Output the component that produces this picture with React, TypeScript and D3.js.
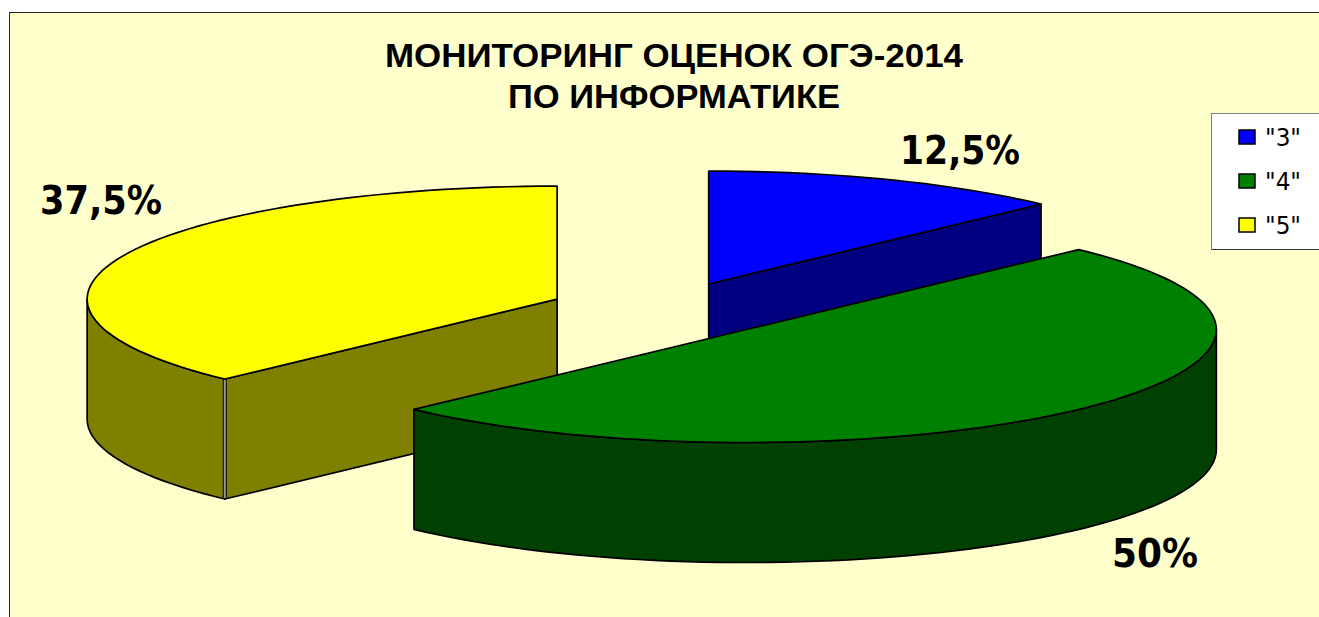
import React from "react";
import * as d3 from "d3";

const categories = ['"3"', '"4"', '"5"'];
const shares = [12.5, 50, 37.5];
const shareLabels = ["12,5%", "50%", "37,5%"];
const topColors = ["#0000FF", "#008000", "#FFFF00"];
const wallColors = ["#000080", "#004000", "#808000"];
const titleLines = ["МОНИТОРИНГ ОЦЕНОК ОГЭ-2014", "ПО ИНФОРМАТИКЕ"];

const W = 1319;
const H = 617;
const CX = 664.3;
const CY = 309.8;
const RX = 470;
const RY = 113;
const DEPTH = 120;
const EXPLODE = 116;
const labelBoxes = [
  { x: 900, y: 164, w: 120 },
  { x: 1112, y: 567, w: 86 },
  { x: 40, y: 214, w: 122 },
];

const proj = (a: number, r = 1) => [RX * r * Math.sin(a), -RY * r * Math.cos(a)];
const line = d3.line();

const arcs = d3
  .pie<number>()
  .sort(null)
  .startAngle(0)
  .endAngle(2 * Math.PI)(shares);

const slices = arcs
  .map((a) => {
    const mid = (a.startAngle + a.endAngle) / 2;
    const [ox] = proj(mid, EXPLODE / RX);
    const offY = -Math.cos(mid) * EXPLODE * (RY / RX);
    return { i: a.index, a0: a.startAngle, a1: a.endAngle, mid, x: CX + ox, y: CY + offY };
  })
  .sort((p, q) => p.y - q.y);

const sample = (a0: number, a1: number) => {
  const n = Math.max(2, Math.ceil(((a1 - a0) * 180) / Math.PI / 2));
  return d3.range(n + 1).map((k) => a0 + ((a1 - a0) * k) / n);
};

function Slice({ s }: { s: (typeof slices)[number] }) {
  const at = (a: number, dz = 0): [number, number] => {
    const [px, py] = proj(a);
    return [s.x + px, s.y + py + dz];
  };
  const c: [number, number] = [s.x, s.y];
  const cb: [number, number] = [s.x, s.y + DEPTH];

  const M = proj(s.mid);
  const edges = [s.a0, s.a1].filter((e) => {
    const P = proj(e);
    if (Math.abs(P[0]) < 1) return false;
    return M[1] < (P[1] / P[0]) * M[0];
  });

  const lo = Math.max(s.a0, Math.PI / 2);
  const hi = Math.min(s.a1, (3 * Math.PI) / 2);
  const outer =
    hi > lo
      ? [
          ...sample(lo, hi).map((a) => at(a)),
          ...sample(lo, hi)
            .reverse()
            .map((a) => at(a, DEPTH)),
        ]
      : null;

  const top: [number, number][] = [c, ...sample(s.a0, s.a1).map((a) => at(a))];
  return (
    <g stroke="#000" strokeWidth={1.7} strokeLinejoin="round">
      {outer && <path d={line(outer)! + "Z"} fill={wallColors[s.i]} />}
      {edges.map((e) => (
        <path key={e} d={line([c, at(e), at(e, DEPTH), cb])! + "Z"} fill={wallColors[s.i]} />
      ))}
      {outer &&
        edges.map((e) => (
          <g key={e}>
            <line x1={at(e)[0]} x2={at(e)[0]} y1={at(e)[1]} y2={at(e, DEPTH)[1]} strokeWidth={4} />
            <line
              x1={at(e)[0]}
              x2={at(e)[0]}
              y1={at(e)[1] + 1}
              y2={at(e, DEPTH)[1] - 1}
              stroke="#999"
              strokeWidth={2}
            />
          </g>
        ))}
      <path d={line(top)! + "Z"} fill={topColors[s.i]} />
    </g>
  );
}

export default function App() {
  return (
    <svg
      width={W}
      height={H}
      viewBox={`0 0 ${W} ${H}`}
      style={{ position: "absolute", left: 0, top: 0, display: "block" }}
    >
      <rect width={W} height={H} fill="#fff" />
      <rect x={9.5} y={12.5} width={W} height={H} fill="#FFFFCC" stroke="#222" strokeWidth={1} />
      {titleLines.map((t, i) => (
        <text
          key={t}
          x={674}
          y={67 + i * 41}
          textAnchor="middle"
          textLength={i === 0 ? 578 : 332}
          lengthAdjust="spacingAndGlyphs"
          fontFamily="Liberation Sans"
          fontWeight="bold"
          fontSize={34}
          fill="#000"
        >
          {t}
        </text>
      ))}
      {slices.map((s) => (
        <Slice key={s.i} s={s} />
      ))}
      {shareLabels.map((t, i) => (
        <text
          key={t}
          x={labelBoxes[i].x}
          y={labelBoxes[i].y}
          textLength={labelBoxes[i].w}
          lengthAdjust="spacingAndGlyphs"
          fontFamily="DejaVu Sans"
          fontWeight="bold"
          fontSize={39}
          fill="#000"
        >
          {t}
        </text>
      ))}
      <g>
        <rect x={1211.5} y={113.5} width={120} height={136} fill="#fff" stroke="#333" strokeWidth={1} />
        <path d="M1211.5 249.5V113.5H1319" fill="none" stroke="#808080" strokeWidth={1} />
        {categories.map((c, i) => {
          const y = 137 + i * 44;
          return (
            <g key={c}>
              <rect x={1239} y={y - 7} width={16} height={14} fill={topColors[i]} stroke="#000" strokeWidth={1.5} />
              <text
                x={1265}
                y={y + 9}
                textLength={36}
                lengthAdjust="spacingAndGlyphs"
                fontFamily="DejaVu Sans"
                fontSize={24}
                fill="#000"
              >
                {c}
              </text>
            </g>
          );
        })}
      </g>
    </svg>
  );
}
